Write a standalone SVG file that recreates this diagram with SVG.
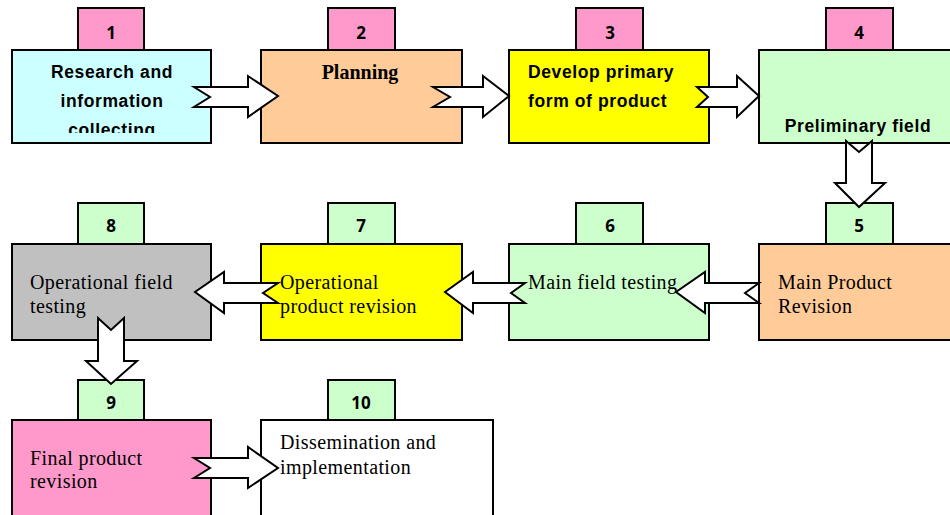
<svg xmlns="http://www.w3.org/2000/svg" width="950" height="515" viewBox="0 0 950 515">
<defs>
<style>
.box{stroke:#000;stroke-width:2}
.tab{stroke:#000;stroke-width:2}
.arr{fill:#fff;stroke:#000;stroke-width:2;stroke-linejoin:miter}
.num{font-family:"Open Sans","Liberation Sans",sans-serif;font-weight:bold;font-size:17px;text-anchor:middle;fill:#000}
.bs{font-family:"Liberation Sans",Arial,sans-serif;font-weight:bold;font-size:17.5px;letter-spacing:0.6px;fill:#000}
.sr{font-family:"Liberation Serif","Times New Roman",serif;font-size:20px;letter-spacing:0.4px;fill:#000}
.srb{font-family:"Liberation Serif","Times New Roman",serif;font-weight:bold;font-size:20px;fill:#000}
</style>
<clipPath id="c1"><rect x="12" y="50" width="199" height="83"/></clipPath>
</defs>
<rect width="950" height="515" fill="#fff"/>

<g id="n1">
<rect class="tab" x="78" y="8" width="66" height="42" fill="#FF99CC"/>
<text class="num" x="111" y="39">1</text>
<rect class="box" x="12" y="50" width="199" height="93" fill="#CCFFFF"/>
<g clip-path="url(#c1)">
<text class="bs" x="112" y="78" text-anchor="middle">Research and</text>
<text class="bs" x="112" y="107" text-anchor="middle">information</text>
<text class="bs" x="112" y="136" text-anchor="middle">collecting</text>
</g>
</g>

<g id="n2">
<rect class="tab" x="328" y="8" width="67" height="42" fill="#FF99CC"/>
<text class="num" x="361" y="39">2</text>
<rect class="box" x="261" y="50" width="201" height="93" fill="#FFCC99"/>
<text class="srb" x="360" y="79" text-anchor="middle">Planning</text>
</g>

<g id="n3">
<rect class="tab" x="576" y="8" width="67" height="42" fill="#FF99CC"/>
<text class="num" x="610" y="39">3</text>
<rect class="box" x="509" y="50" width="200" height="93" fill="#FFFF00"/>
<text class="bs" x="528" y="78">Develop primary</text>
<text class="bs" x="528" y="107">form of product</text>
</g>

<g id="n4">
<rect class="tab" x="826" y="8" width="67" height="42" fill="#FF99CC"/>
<text class="num" x="859" y="39">4</text>
<rect class="box" x="759" y="50" width="202" height="93" fill="#CCFFCC"/>
<text class="bs" x="858" y="132" text-anchor="middle">Preliminary field</text>
</g>

<g id="n5">
<rect class="tab" x="826" y="203" width="67" height="41" fill="#CCFFCC"/>
<text class="num" x="859" y="232">5</text>
<rect class="box" x="759" y="244" width="202" height="96" fill="#FFCC99"/>
<text class="sr" x="778" y="289">Main Product</text>
<text class="sr" x="778" y="313">Revision</text>
</g>

<g id="n6">
<rect class="tab" x="576" y="203" width="67" height="41" fill="#CCFFCC"/>
<text class="num" x="610" y="232">6</text>
<rect class="box" x="509" y="244" width="200" height="96" fill="#CCFFCC"/>
<text class="sr" x="528" y="289">Main field testing</text>
</g>

<g id="n7">
<rect class="tab" x="328" y="203" width="67" height="41" fill="#CCFFCC"/>
<text class="num" x="361" y="232">7</text>
<rect class="box" x="261" y="244" width="201" height="96" fill="#FFFF00"/>
<text class="sr" x="280" y="289">Operational</text>
<text class="sr" x="280" y="313">product revision</text>
</g>

<g id="n8">
<rect class="tab" x="78" y="203" width="66" height="41" fill="#CCFFCC"/>
<text class="num" x="111" y="232">8</text>
<rect class="box" x="12" y="244" width="199" height="96" fill="#C0C0C0"/>
<text class="sr" x="30" y="289">Operational field</text>
<text class="sr" x="30" y="313">testing</text>
</g>

<g id="n9">
<rect class="tab" x="78" y="380" width="66" height="40" fill="#CCFFCC"/>
<text class="num" x="111" y="409">9</text>
<rect class="box" x="12" y="420" width="199" height="100" fill="#FF99CC"/>
<text class="sr" x="30" y="465">Final product</text>
<text class="sr" x="30" y="488">revision</text>
</g>

<g id="n10">
<rect class="tab" x="328" y="380" width="67" height="40" fill="#CCFFCC"/>
<text class="num" x="361" y="409">10</text>
<rect class="box" x="261" y="420" width="232" height="100" fill="#FFFFFF"/>
<text class="sr" x="280" y="449">Dissemination and</text>
<text class="sr" x="280" y="474">implementation</text>
</g>

<g id="connectors">
<polygon class="arr" points="194,87 248,87 248,76 278,96 248,117 248,107 194,107 210,97"/>
<polygon class="arr" points="433,87 483,87 483,76 509,96 483,117 483,107 433,107 450,97"/>
<polygon class="arr" points="697,87 737,87 737,76 759,96 737,117 737,107 697,107 708,97"/>
<polygon class="arr" points="846,141 846,183 835,183 859,207 885,183 872,183 872,141 859,152"/>
<polygon class="arr" points="759,283 705,283 705,272 676,292 705,313 705,303 759,303 745,293"/>
<polygon class="arr" points="525,283 473,283 473,272 445,292 473,313 473,303 525,303 511,293"/>
<polygon class="arr" points="278,283 224,283 224,272 195,292 224,313 224,303 278,303 263,293"/>
<polygon class="arr" points="98,318 98,361 86,361 111,384 137,361 124,361 124,318 111,330"/>
<polygon class="arr" points="194,458 248,458 248,447 278,468 248,488 248,478 194,478 210,468"/>
</g>
</svg>
